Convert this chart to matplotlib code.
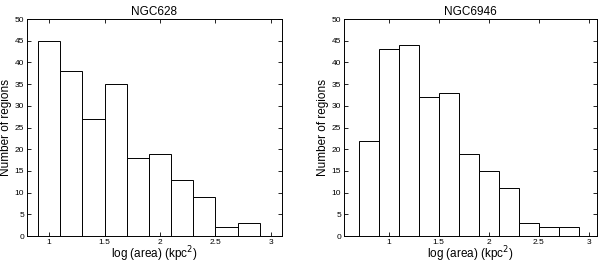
import numpy as np
import matplotlib
matplotlib.use('Agg')
import matplotlib.pyplot as plt

plt.rcParams['font.family'] = ['Liberation Sans', 'DejaVu Sans']

# bin left edges and counts
ngc628_edges = [0.9, 1.1, 1.3, 1.5, 1.7, 1.9, 2.1, 2.3, 2.5, 2.7]
ngc628_counts = [45, 38, 27, 35, 18, 19, 13, 9, 2, 3]

ngc6946_edges = [0.7, 0.9, 1.1, 1.3, 1.5, 1.7, 1.9, 2.1, 2.3, 2.5, 2.7]
ngc6946_counts = [22, 43, 44, 32, 33, 19, 15, 11, 3, 2, 2]

bin_width = 0.2
xticks = [1, 1.5, 2, 2.5, 3]
xticklabels = ['1', '1.5', '2', '2.5', '3']
yticks = list(range(0, 51, 5))

fig = plt.figure(figsize=(6.0, 2.64), dpi=100)
ax1 = fig.add_axes([0.045, 0.106, 0.425, 0.822])
ax2 = fig.add_axes([0.573, 0.106, 0.4215, 0.822])

panels = [
    (ax1, 'NGC628', ngc628_edges, ngc628_counts, (0.8, 3.1)),
    (ax2, 'NGC6946', ngc6946_edges, ngc6946_counts, (0.55, 3.08)),
]

for ax, title, edges, counts, xlim in panels:
    ax.bar(edges, counts, width=bin_width, align='edge',
           facecolor='white', edgecolor='black', linewidth=0.7)
    ax.set_xlim(xlim)
    ax.set_ylim(0, 50)
    ax.set_xticks(xticks)
    ax.set_xticklabels(xticklabels)
    ax.set_yticks(yticks)
    ax.tick_params(direction='in', top=True, right=True, length=3,
                   width=0.6, labelsize=6, pad=2)
    for s in ax.spines.values():
        s.set_linewidth(0.7)
    ax.set_title(title, fontsize=8.5, pad=3)
    ax.set_xlabel('log (area) (kpc$^2$)', fontsize=8.5, labelpad=-1)
    ax.set_ylabel('Number of regions', fontsize=8.5, labelpad=2)

fig.savefig('out.png', dpi=100)
